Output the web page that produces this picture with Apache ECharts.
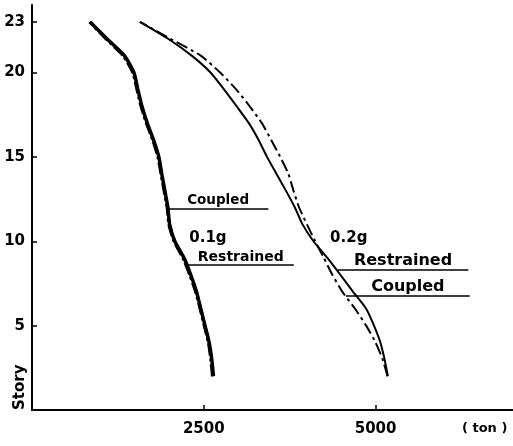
<!DOCTYPE html>
<html>
<head>
<meta charset="utf-8">
<script src="https://cdn.jsdelivr.net/npm/echarts@6/dist/echarts.min.js"></script>
<style>
html,body{margin:0;padding:0;background:#fff;}
#c{width:513px;height:446px;}
</style>
</head>
<body>
<div id="c"></div>
<script>
// ---- data ----
const stories = [2,3,4,5,6,7,8,9,10,11,12,13,14,15,16,17,18,19,20,21,22,23];
const restrained01 = [2641,2616,2578,2518,2456,2395,2311,2214,2078,2003,1977,1933,1888,1846,1769,1677,1600,1540,1483,1345,1090,845];
const coupled01    = [2630,2605,2570,2510,2450,2385,2300,2200,2070,1995,1970,1925,1880,1835,1760,1668,1590,1530,1470,1330,1080,840];
const restrained02 = [5179,5131,5070,4977,4863,4673,4490,4302,4096,3937,3826,3695,3557,3420,3298,3156,2978,2794,2598,2324,1980,1570];
const coupled02    = [5174,5103,5000,4863,4702,4517,4373,4249,4121,4001,3887,3805,3731,3612,3481,3345,3167,2971,2737,2456,2012,1570];
const yTickLabels = [5,10,15,20,23];
const xTickLabels = [2500,5000];
const annotLabels = ['Coupled','Restrained','Restrained','Coupled'];
const annotStory  = [11.94, 8.6, 8.32, 6.77];
const annotFrom   = [1977, 2267, 4450, 4570];
const annotTo     = [3440, 3810, 6350, 6370];
const groupLabels = ['0.1g','0.2g'];
const groupValue  = [2560, 4610];
const groupStory  = [10.2, 10.2];

// ---- styles ----
const annotFont = [13.5, 14, 16, 16];
const FONT = 'DejaVu Sans';

function pts(vals){ return stories.map((s,i)=>[vals[i], s]); }

const markLineData = annotLabels.map((t,i)=>[
  {coord:[annotFrom[i], annotStory[i]], label:{show:true, formatter:t, position:'insideMiddleTop', distance:1, fontSize:annotFont[i], fontWeight:'bold', color:'#000', fontFamily:FONT}},
  {coord:[annotTo[i], annotStory[i]]}
]);
const markPointData = groupLabels.map((t,i)=>({
  coord:[groupValue[i], groupStory[i]], value:t, symbolSize:0,
  label:{show:true, formatter:t, color:'#000', fontSize:15, fontWeight:'bold', fontFamily:FONT, position:'inside'}
}));

const chart = echarts.init(document.getElementById('c'), null, {renderer:'canvas'});
chart.setOption({
  backgroundColor:'#fff',
  animation:false,
  grid:{left:32, right:0, top:5, bottom:36},
  xAxis:{
    type:'value', min:0, max:7000,
    splitLine:{show:false},
    axisLine:{show:true, lineStyle:{color:'#000', width:2}},
    axisTick:{show:true, inside:true, length:5, lineStyle:{color:'#000', width:1.5}, customValues:xTickLabels},
    axisLabel:{color:'#000', fontSize:15, fontWeight:'bold', fontFamily:FONT, margin:12, customValues:xTickLabels, formatter:v=>String(v)}
  },
  yAxis:{
    type:'value', min:0, max:24,
    splitLine:{show:false},
    axisLine:{show:true, lineStyle:{color:'#000', width:2}},
    axisTick:{show:true, inside:true, length:5, lineStyle:{color:'#000', width:1.5}, customValues:yTickLabels},
    axisLabel:{color:'#000', fontSize:15, fontWeight:'bold', fontFamily:FONT, margin:7, customValues:yTickLabels}
  },
  graphic:[
    {type:'text', left:462, top:422, style:{text:'( ton )', fontSize:13, fontFamily:FONT, fill:'#000', fontWeight:'bold'}},
    {type:'text', x:13, y:410, rotation:Math.PI/2, style:{text:'Story', fontSize:15, fontFamily:FONT, fill:'#000', fontWeight:'bold'}}
  ],
  series:[
    {name:'Restrained 0.1g', type:'line', data:pts(restrained01), symbol:'none', smooth:0.2,
     lineStyle:{color:'#000', width:3.5},
     markLine:{symbol:'none', silent:true, lineStyle:{color:'#000', width:1.5, type:'solid'}, data:markLineData},
     markPoint:{symbol:'circle', silent:true, data:markPointData}},
    {name:'Coupled 0.1g', type:'line', data:pts(coupled01), symbol:'none', smooth:0.2,
     lineStyle:{color:'#000', width:3.5, type:[12,3,3,3]}},
    {name:'Restrained 0.2g', type:'line', data:pts(restrained02), symbol:'none', smooth:0.2,
     lineStyle:{color:'#000', width:2}},
    {name:'Coupled 0.2g', type:'line', data:pts(coupled02), symbol:'none', smooth:0.2,
     lineStyle:{color:'#000', width:2, type:[12,4,3,4]}}
  ]
});
</script>
</body>
</html>
